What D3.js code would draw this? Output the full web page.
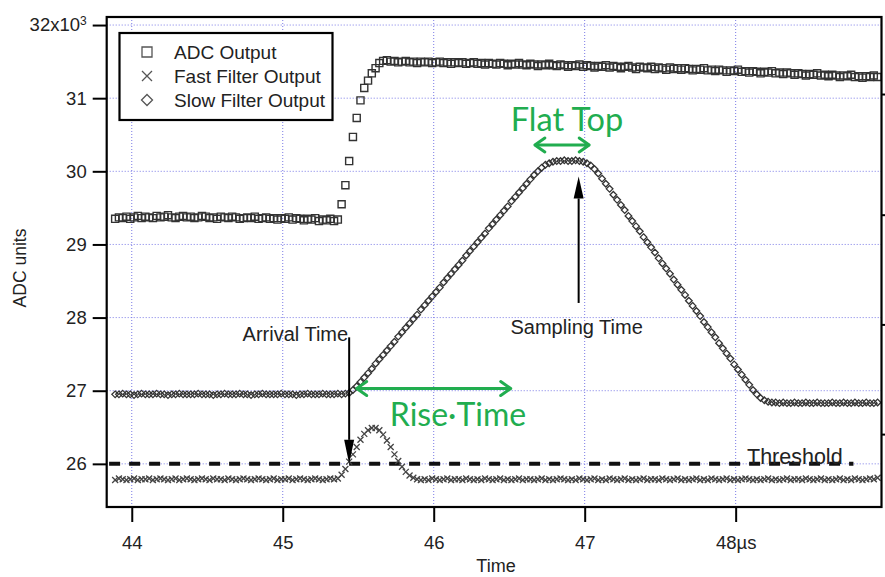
<!DOCTYPE html>
<html><head><meta charset="utf-8">
<script src="https://cdn.jsdelivr.net/npm/d3@7"></script>
<style>
body{margin:0;background:#fff}
svg text{font-family:"Liberation Sans",Arial,sans-serif;fill:#222}
</style>
</head><body>
<svg id="c" width="885" height="577"></svg>
<script>
// ---- sampling (µs) ----
const t0 = 43.89, dt = 0.025;

// ---- series values (ADC units, x10^3) ----
const adcOutput = [
29.35,29.37,29.36,29.38,29.35,29.37,29.39,29.36,29.38,29.37,
29.36,29.39,29.37,29.38,29.40,29.37,29.36,29.38,29.39,29.37,
29.38,29.36,29.37,29.39,29.38,29.36,29.37,29.35,29.38,29.37,
29.36,29.38,29.37,29.35,29.36,29.37,29.36,29.38,29.35,29.36,
29.37,29.35,29.36,29.34,29.36,29.35,29.37,29.34,29.36,29.35,
29.33,29.35,29.34,29.36,29.32,29.34,29.33,29.35,29.32,29.34,
29.55,29.81,30.14,30.47,30.73,30.97,31.14,31.24,31.34,31.41,31.48,31.51,
31.52,31.50,31.51,31.49,31.50,31.51,31.49,31.50,31.48,31.50,
31.49,31.50,31.48,31.49,31.50,31.48,31.49,31.47,31.49,31.48,
31.49,31.47,31.48,31.49,31.47,31.48,31.46,31.48,31.47,31.46,
31.48,31.47,31.45,31.47,31.46,31.48,31.46,31.45,31.47,31.46,
31.44,31.46,31.45,31.47,31.45,31.44,31.46,31.45,31.43,31.45,
31.44,31.46,31.43,31.45,31.44,31.42,31.44,31.43,31.45,31.42,
31.44,31.43,31.41,31.43,31.44,31.42,31.40,31.43,31.42,31.41,
31.43,31.40,31.42,31.41,31.39,31.42,31.40,31.41,31.39,31.41,
31.40,31.38,31.40,31.39,31.41,31.38,31.39,31.37,31.39,31.38,
31.36,31.38,31.37,31.39,31.36,31.37,31.35,31.37,31.36,31.34,
31.36,31.35,31.37,31.34,31.35,31.33,31.35,31.34,31.32,31.34,
31.33,31.31,31.33,31.32,31.34,31.31,31.32,31.30,31.32,31.31,
31.29,31.31,31.30,31.32,31.29,31.30,31.28,31.30,31.29,31.31,31.29
];
const fastFilter = [
25.78,25.80,25.79,25.78,25.79,25.80,25.78,25.79,25.79,25.80,
25.78,25.79,25.80,25.79,25.78,25.79,25.80,25.78,25.79,25.80,
25.79,25.78,25.79,25.80,25.79,25.78,25.80,25.79,25.79,25.78,
25.80,25.79,25.78,25.79,25.80,25.79,25.78,25.79,25.80,25.79,
25.78,25.79,25.80,25.78,25.79,25.79,25.80,25.78,25.79,25.80,
25.79,25.78,25.79,25.80,25.79,25.78,25.79,25.80,25.79,
25.80,25.85,25.93,26.03,26.13,26.23,26.33,26.41,26.46,26.49,26.49,
26.46,26.40,26.32,26.23,26.13,26.04,25.96,25.89,25.84,25.81,25.79,
25.78,25.79,25.78,25.80,25.79,25.78,25.79,25.80,25.78,25.79,
25.79,25.78,25.80,25.79,25.78,25.79,25.78,25.80,25.79,25.78,
25.79,25.80,25.78,25.79,25.78,25.79,25.80,25.78,25.79,25.79,
25.78,25.79,25.80,25.78,25.79,25.78,25.79,25.80,25.79,25.78,
25.79,25.78,25.80,25.79,25.78,25.79,25.80,25.78,25.79,25.78,
25.80,25.79,25.78,25.79,25.80,25.78,25.79,25.78,25.79,25.80,
25.78,25.79,25.79,25.78,25.80,25.79,25.78,25.79,25.80,25.78,
25.79,25.78,25.79,25.80,25.78,25.79,25.78,25.80,25.79,25.78,
25.79,25.80,25.78,25.79,25.78,25.79,25.80,25.79,25.78,25.79,
25.78,25.79,25.80,25.78,25.79,25.78,25.79,25.80,25.78,25.79,
25.79,25.78,25.80,25.79,25.78,25.79,25.80,25.78,25.79,25.78,
25.79,25.80,25.78,25.79,25.78,25.80,25.79,25.78,25.79,25.80,
25.79,25.81
];
const slowFilter = [
26.95,26.95,26.96,26.95,26.95,26.94,26.95,26.96,26.95,26.95,
26.95,26.96,26.95,26.95,26.94,26.95,26.95,26.96,26.95,26.95,
26.95,26.95,26.96,26.95,26.95,26.95,26.94,26.95,26.95,26.96,
26.95,26.95,26.95,26.96,26.95,26.95,26.94,26.95,26.95,26.96,
26.95,26.95,26.95,26.95,26.96,26.95,26.95,26.95,26.94,26.95,
26.95,26.96,26.95,26.95,26.95,26.96,26.95,26.95,26.95,26.96,
26.95,26.96,
26.97,27.01,27.06,27.12,
27.18,27.24,27.30,27.37,27.43,27.49,27.55,27.61,27.67,27.74,
27.80,27.86,27.92,27.98,28.04,28.11,28.17,28.23,28.29,28.35,
28.41,28.48,28.54,28.60,28.66,28.72,28.78,28.85,28.91,28.97,
29.03,29.09,29.15,29.22,29.28,29.34,29.40,29.46,29.52,29.59,
29.65,29.71,29.77,29.83,29.89,29.95,30.00,30.05,30.09,30.11,
30.13,
30.14,30.14,30.15,30.14,30.14,30.15,30.14,
30.13,30.11,30.08,30.03,29.97,29.90,29.83,29.76,29.68,29.61,
29.54,29.47,29.39,29.32,29.25,29.18,29.10,29.03,28.96,28.89,
28.81,28.74,28.67,28.60,28.52,28.45,28.38,28.31,28.23,28.16,
28.09,28.02,27.94,27.87,27.80,27.73,27.65,27.58,27.51,27.44,
27.36,27.29,27.22,27.15,27.08,27.01,26.95,26.90,26.87,26.85,
26.84,26.84,26.83,26.84,26.83,26.83,26.84,26.83,26.83,26.84,
26.83,26.83,26.84,26.83,26.83,26.83,26.84,26.83,26.83,26.84,
26.83,26.83,26.84,26.83,26.83,26.84,26.83,26.83,26.84
];
const thresholdLevel = 26.0;
const thresholdSpan = [43.85, 48.78];

// ---- axes ----
const xTicks = [44, 45, 46, 47, 48];
const xTickLabels = ["44", "45", "46", "47", "48\u00b5s"];
const yTicks = [26, 27, 28, 29, 30, 31, 32];
const yTickLabels = ["26", "27", "28", "29", "30", "31", "32x10"];
const rightTicks = [31.05, 29.4, 27.9, 26.4];
const legendLabels = ["ADC Output", "Fast Filter Output", "Slow Filter Output"];

// ---- annotations (data coordinates) ----
const arrivalArrow = {t: 45.44, from: 27.73, to: 26.0, label: "Arrival Time"};
const samplingArrow = {t: 46.96, from: 28.2, to: 29.93, label: "Sampling Time"};
const riseArrow = {from: 45.49, to: 46.51, v: 27.03, label: "Rise\u00b7Time"};
const flatArrow = {from: 46.67, to: 47.03, v: 30.36, label: "Flat Top"};

// ---------- drawing ----------
const svg = d3.select("#c");
const L = 106.7, R = 881.5, T = 17, B = 507;
const x = d3.scaleLinear().domain([43.834, 48.966]).range([L, R]);
const y = d3.scaleLinear().domain([25.41, 32.11]).range([B, T]);
const green = "#21ad4f";
const ts = i => t0 + i * dt;

// grid
const grid = svg.append("g").attr("stroke", "#7a7ae6").attr("stroke-width", 1)
  .attr("stroke-dasharray", "1,2");
grid.selectAll(".gx").data(xTicks).join("line")
  .attr("x1", d => x(d)).attr("x2", d => x(d)).attr("y1", T).attr("y2", B);
grid.selectAll(".gy").data(yTicks).join("line")
  .attr("y1", d => y(d)).attr("y2", d => y(d)).attr("x1", L).attr("x2", R);

// threshold
svg.append("line")
  .attr("x1", x(thresholdSpan[0])).attr("x2", x(thresholdSpan[1]))
  .attr("y1", y(thresholdLevel)).attr("y2", y(thresholdLevel))
  .attr("stroke", "#111").attr("stroke-width", 4).attr("stroke-dasharray", "11,9");

// markers
const mk = "#333";
const sq = d3.symbol().type(d3.symbolSquare).size(50)();
const dia = "M0,-3.3L3.3,0L0,3.3L-3.3,0Z";
const xs = "M-3,-3L3,3M-3,3L3,-3";

svg.append("g").selectAll("path").data(fastFilter).join("path")
  .attr("d", xs).attr("transform", (d, i) => `translate(${x(ts(i))},${y(d)})`)
  .attr("fill", "none").attr("stroke", "#444").attr("stroke-width", 1.3);
svg.append("g").selectAll("path").data(slowFilter).join("path")
  .attr("d", dia).attr("transform", (d, i) => `translate(${x(ts(i))},${y(d)})`)
  .attr("fill", "none").attr("stroke", mk).attr("stroke-width", 1.3);
svg.append("g").selectAll("path").data(adcOutput).join("path")
  .attr("d", sq).attr("transform", (d, i) => `translate(${x(ts(i))},${y(d)})`)
  .attr("fill", "none").attr("stroke", mk).attr("stroke-width", 1.4);

// frame
svg.append("rect").attr("x", L).attr("y", T).attr("width", R - L).attr("height", B - T)
  .attr("fill", "none").attr("stroke", "#000").attr("stroke-width", 2.2);

// left axis
const ya = svg.append("g").attr("transform", `translate(${L},0)`)
  .call(d3.axisLeft(y).tickValues(yTicks).tickSize(14).tickPadding(6)
    .tickFormat((d, i) => yTickLabels[i]));
ya.select(".domain").remove();
ya.selectAll(".tick line").attr("stroke", "#000").attr("stroke-width", 2);
ya.selectAll(".tick text").attr("font-size", 18.5).attr("font-family", "Liberation Sans, Arial, sans-serif").attr("fill", "#222");
ya.selectAll(".tick text").filter(d => d === 32)
  .append("tspan").attr("dy", "-0.55em").attr("font-size", 12).text("3");

// bottom axis
const xa = svg.append("g").attr("transform", `translate(0,${B})`)
  .call(d3.axisBottom(x).tickValues(xTicks).tickSize(15).tickPadding(14)
    .tickFormat((d, i) => xTickLabels[i]));
xa.select(".domain").remove();
xa.selectAll(".tick line").attr("stroke", "#000").attr("stroke-width", 2);
xa.selectAll(".tick text").attr("font-size", 18.5).attr("font-family", "Liberation Sans, Arial, sans-serif").attr("fill", "#222");

// right ticks
svg.append("g").selectAll("line").data(rightTicks).join("line")
  .attr("x1", R).attr("x2", R + 6).attr("y1", d => y(d)).attr("y2", d => y(d))
  .attr("stroke", "#000").attr("stroke-width", 2);

// axis titles
svg.append("text").attr("x", 496).attr("y", 572).attr("text-anchor", "middle")
  .attr("font-size", 18).text("Time");
svg.append("text").attr("transform", "translate(26,268) rotate(-90)").attr("text-anchor", "middle")
  .attr("font-size", 17.5).text("ADC units");

// legend
const lg = svg.append("g");
lg.append("rect").attr("x", 119.5).attr("y", 33).attr("width", 213).attr("height", 87)
  .attr("fill", "#fff").attr("stroke", "#000").attr("stroke-width", 2.2);
const legSyms = [
  d3.symbol().type(d3.symbolSquare).size(100)(),
  "M-5,-5L5,5M-5,5L5,-5",
  "M0,-5.5L5.5,0L0,5.5L-5.5,0Z"
];
legendLabels.forEach((lab, i) => {
  const yy = 52 + i * 24;
  lg.append("path").attr("d", legSyms[i]).attr("transform", `translate(147,${yy})`)
    .attr("fill", "none").attr("stroke", "#555").attr("stroke-width", 1.3);
  lg.append("text").attr("x", 174).attr("y", yy).attr("dy", "0.35em")
    .attr("font-size", 19).text(lab);
});

// black arrows
function vArrow(a, head) {
  const xx = x(a.t), y1 = y(a.from), y2 = y(a.to);
  const dir = y2 > y1 ? 1 : -1;
  svg.append("line").attr("x1", xx).attr("x2", xx).attr("y1", y1).attr("y2", y2 - dir * head)
    .attr("stroke", "#000").attr("stroke-width", 2);
  svg.append("path").attr("d", `M${xx},${y2}L${xx - 5},${y2 - dir * head}L${xx + 5},${y2 - dir * head}Z`)
    .attr("fill", "#000");
}
vArrow(arrivalArrow, 24);
vArrow(samplingArrow, 22);
svg.append("text").attr("x", x(arrivalArrow.t) - 1).attr("y", 341).attr("text-anchor", "end")
  .attr("font-size", 20).text(arrivalArrow.label);
svg.append("text").attr("x", x(samplingArrow.t) - 2).attr("y", 334).attr("text-anchor", "middle")
  .attr("font-size", 20).text(samplingArrow.label);
svg.append("text").attr("x", 747).attr("y", 464).attr("font-size", 21.5).text("Threshold");

// green double arrows
function hArrow(a) {
  const x1 = x(a.from), x2 = x(a.to), yy = y(a.v);
  const g = svg.append("g").attr("stroke", green).attr("stroke-width", 3).attr("fill", "none")
    .attr("stroke-linecap", "round").attr("stroke-linejoin", "round");
  g.append("line").attr("x1", x1 + 1).attr("x2", x2 - 1).attr("y1", yy).attr("y2", yy);
  g.append("path").attr("d", `M${x1 + 10},${yy - 7}L${x1},${yy}L${x1 + 10},${yy + 7}`);
  g.append("path").attr("d", `M${x2 - 10},${yy - 7}L${x2},${yy}L${x2 - 10},${yy + 7}`);
}
hArrow(riseArrow);
hArrow(flatArrow);
svg.append("text").attr("x", 458).attr("y", 426).attr("text-anchor", "middle")
  .style("font-family", "Lato, 'Open Sans', sans-serif").style("fill", green)
  .attr("font-size", 32).text(riseArrow.label);
svg.append("text").attr("x", 567).attr("y", 131).attr("text-anchor", "middle")
  .style("font-family", "Lato, 'Open Sans', sans-serif").style("fill", green)
  .attr("font-size", 32.5).text(flatArrow.label);
</script>
</body></html>
